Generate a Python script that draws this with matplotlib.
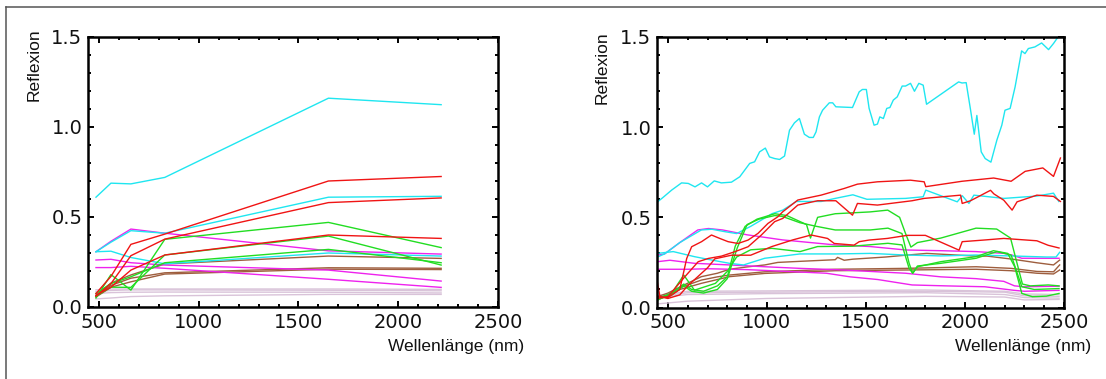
import matplotlib
matplotlib.use("Agg")
import matplotlib.pyplot as plt
from matplotlib.lines import Line2D
from matplotlib.ticker import MultipleLocator, FormatStrFormatter

# ---------------- colours ----------------
CYAN = "#1FE6F0"
RED = "#F01414"
GREEN = "#22DD22"
MAGENTA = "#EE22EE"
BROWN = "#9E5E3E"
LIGHT = "#D9C3D9"

# ---------------- left panel: band values ----------------
band_wl = [485, 560, 660, 830, 1650, 2215]
band_cyan_top = [0.61, 0.688, 0.684, 0.72, 1.16, 1.124]
band_red_a = [0.075, 0.17, 0.348, 0.405, 0.70, 0.725]
band_cyan_2 = [0.307, 0.36, 0.424, 0.41, 0.61, 0.615]
band_red_b = [0.06, 0.13, 0.285, 0.377, 0.58, 0.606]
band_mag_1 = [0.307, 0.365, 0.433, 0.41, 0.312, 0.294]
band_green_1 = [0.05, 0.18, 0.094, 0.376, 0.47, 0.33]
band_red_c = [0.065, 0.11, 0.205, 0.289, 0.40, 0.381]
band_green_2 = [0.06, 0.11, 0.109, 0.289, 0.394, 0.233]
band_green_3 = [0.075, 0.13, 0.168, 0.246, 0.32, 0.246]
band_cyan_3 = [0.307, 0.31, 0.275, 0.24, 0.30, 0.283]
band_mag_2 = [0.261, 0.265, 0.246, 0.233, 0.205, 0.144]
band_mag_3 = [0.219, 0.219, 0.226, 0.215, 0.154, 0.109]
band_brown_1 = [0.065, 0.133, 0.178, 0.239, 0.283, 0.27]
band_brown_2 = [0.06, 0.12, 0.16, 0.19, 0.218, 0.215]
band_brown_3 = [0.055, 0.11, 0.14, 0.183, 0.21, 0.208]
band_light_1 = [0.095, 0.10, 0.10, 0.10, 0.10, 0.098]
band_light_2 = [0.085, 0.092, 0.095, 0.095, 0.093, 0.09]
band_light_3 = [0.075, 0.08, 0.082, 0.083, 0.082, 0.078]
band_light_4 = [0.045, 0.05, 0.058, 0.062, 0.07, 0.07]

# ---------------- right panel: spectra ----------------
ct_wl = [447, 475, 519, 569, 603, 637, 670, 700, 734, 770, 821, 863, 913, 938, 963, 992,
         1013, 1039, 1064, 1089, 1114, 1139, 1164, 1189, 1214, 1234, 1248, 1265, 1281,
         1315, 1332, 1348, 1432, 1466, 1482, 1502, 1516, 1541, 1558, 1570, 1588, 1605,
         1621, 1638, 1658, 1683, 1700, 1725, 1745, 1767, 1789, 1806, 1968, 1985, 2006,
         2027, 2047, 2060, 2082, 2102, 2131, 2161, 2186, 2202, 2228, 2253, 2286, 2303,
         2320, 2353, 2387, 2422, 2447, 2470]
ct_val = [0.585, 0.61, 0.651, 0.691, 0.688, 0.669, 0.691, 0.669, 0.702, 0.691, 0.695,
          0.725, 0.799, 0.808, 0.863, 0.884, 0.835, 0.826, 0.821, 0.840, 0.983, 1.024,
          1.048, 0.961, 0.943, 0.943, 0.974, 1.057, 1.094, 1.135, 1.135, 1.113, 1.109,
          1.196, 1.209, 1.209, 1.104, 1.011, 1.017, 1.057, 1.048, 1.104, 1.109, 1.15,
          1.168, 1.228, 1.228, 1.243, 1.199, 1.243, 1.233, 1.127, 1.251, 1.245, 1.247,
          1.104, 0.961, 1.065, 0.863, 0.826, 0.806, 0.928, 1.011, 1.094, 1.104, 1.223,
          1.423, 1.408, 1.436, 1.445, 1.467, 1.43, 1.464, 1.50]

c2_wl = [447, 483, 560, 669, 722, 790, 847, 918, 980, 1025, 1080, 1149, 1274, 1345, 1434,
         1505, 1700, 1789, 1802, 1961, 1986, 2020, 2045, 2196, 2363, 2447, 2474]
c2_val = [0.28, 0.297, 0.36, 0.43, 0.434, 0.42, 0.41, 0.45, 0.49, 0.52, 0.54, 0.588,
          0.588, 0.605, 0.625, 0.60, 0.605, 0.614, 0.651, 0.586, 0.62, 0.577, 0.623,
          0.605, 0.618, 0.634, 0.588]

c3_wl = [447, 527, 634, 722, 811, 882, 989, 1167, 1345, 1522, 1700, 1878, 2056, 2233,
         2411, 2460, 2478]
c3_val = [0.30, 0.31, 0.282, 0.263, 0.245, 0.236, 0.273, 0.297, 0.297, 0.30, 0.291,
          0.286, 0.291, 0.286, 0.28, 0.28, 0.306]

m1_wl = [447, 483, 560, 651, 705, 776, 900, 1078, 1345, 1522, 1700, 1878, 2056, 2198,
         2240, 2287, 2475]
m1_val = [0.29, 0.297, 0.36, 0.43, 0.438, 0.43, 0.403, 0.375, 0.347, 0.338, 0.319,
          0.315, 0.31, 0.30, 0.29, 0.273, 0.273]

m2_wl = [447, 510, 634, 811, 989, 1167, 1345, 1522, 1700, 1878, 2056, 2196, 2250, 2300,
         2475]
m2_val = [0.254, 0.262, 0.245, 0.236, 0.226, 0.217, 0.21, 0.20, 0.19, 0.17, 0.16,
          0.145, 0.12, 0.115, 0.118]

m3_wl = [447, 600, 700, 900, 1100, 1300, 1420, 1560, 1733, 1900, 2100, 2250, 2300, 2475]
m3_val = [0.212, 0.212, 0.215, 0.21, 0.20, 0.19, 0.17, 0.155, 0.125, 0.12, 0.115,
          0.095, 0.09, 0.095]

ra_wl = [447, 500, 560, 595, 620, 670, 720, 762, 804, 854, 905, 955, 1005, 1055, 1080,
         1156, 1273, 1390, 1457, 1558, 1725, 1794, 1802, 1985, 2145, 2233, 2304, 2393,
         2447, 2482]
ra_val = [0.06, 0.055, 0.10, 0.272, 0.337, 0.365, 0.402, 0.383, 0.365, 0.355, 0.374,
          0.411, 0.466, 0.503, 0.531, 0.596, 0.623, 0.66, 0.684, 0.697, 0.706, 0.697,
          0.67, 0.70, 0.718, 0.70, 0.755, 0.774, 0.727, 0.829]

rb_wl = [447, 500, 586, 653, 704, 771, 837, 905, 972, 1039, 1080, 1156, 1256, 1348, 1432,
         1457, 1558, 1733, 1794, 1978, 1986, 2028, 2129, 2146, 2196, 2238, 2263, 2363,
         2447, 2482]
rb_val = [0.05, 0.06, 0.171, 0.254, 0.272, 0.285, 0.309, 0.337, 0.402, 0.476, 0.494,
          0.568, 0.592, 0.592, 0.512, 0.577, 0.568, 0.592, 0.605, 0.623, 0.577, 0.592,
          0.65, 0.63, 0.595, 0.54, 0.586, 0.623, 0.616, 0.588]

rc_wl = [447, 460, 500, 560, 600, 650, 700, 737, 821, 918, 1025, 1131, 1223, 1306, 1340,
         1440, 1466, 1516, 1608, 1708, 1800, 1970, 1986, 2095, 2196, 2363, 2420, 2475]
rc_val = [0.14, 0.06, 0.05, 0.07, 0.12, 0.17, 0.22, 0.27, 0.29, 0.29, 0.338, 0.375,
          0.402, 0.383, 0.355, 0.346, 0.365, 0.374, 0.383, 0.40, 0.40, 0.318, 0.365,
          0.374, 0.383, 0.37, 0.345, 0.33]

g1_wl = [447, 520, 580, 620, 680, 750, 800, 840, 890, 950, 1040, 1100, 1160, 1200, 1220,
         1256, 1345, 1520, 1610, 1670, 1700, 1727, 1760, 1878, 2056, 2160, 2230, 2290,
         2330, 2420, 2475]
g1_val = [0.05, 0.08, 0.13, 0.10, 0.09, 0.12, 0.17, 0.34, 0.45, 0.49, 0.52, 0.51, 0.48,
          0.46, 0.385, 0.50, 0.52, 0.53, 0.54, 0.50, 0.41, 0.335, 0.36, 0.385, 0.44,
          0.435, 0.385, 0.13, 0.12, 0.125, 0.12]

g2_wl = [447, 520, 580, 620, 680, 750, 800, 850, 900, 960, 1040, 1078, 1167, 1250, 1345,
         1522, 1611, 1682, 1718, 1736, 1760, 1878, 2056, 2162, 2233, 2287, 2350, 2475]
g2_val = [0.045, 0.07, 0.12, 0.09, 0.08, 0.10, 0.16, 0.33, 0.46, 0.49, 0.51, 0.505,
          0.47, 0.45, 0.43, 0.43, 0.44, 0.41, 0.245, 0.19, 0.23, 0.245, 0.273, 0.31,
          0.291, 0.115, 0.10, 0.105]

g3_wl = [447, 520, 580, 634, 740, 800, 847, 918, 1025, 1167, 1256, 1434, 1611, 1682,
         1718, 1736, 1760, 1878, 2056, 2144, 2216, 2251, 2287, 2340, 2411, 2475]
g3_val = [0.04, 0.08, 0.18, 0.096, 0.134, 0.20, 0.28, 0.32, 0.328, 0.31, 0.338, 0.34,
          0.356, 0.347, 0.217, 0.19, 0.226, 0.254, 0.282, 0.315, 0.30, 0.226, 0.078,
          0.06, 0.063, 0.078]

b1_wl = [447, 500, 563, 669, 750, 811, 900, 989, 1055, 1167, 1345, 1357, 1390, 1434, 1600,
         1700, 1807, 2056, 2112, 2246, 2363, 2447, 2478]
b1_val = [0.06, 0.08, 0.115, 0.171, 0.19, 0.212, 0.225, 0.236, 0.25, 0.256, 0.265,
          0.278, 0.262, 0.268, 0.28, 0.29, 0.30, 0.285, 0.285, 0.267, 0.248, 0.236, 0.263]

b23_wl = [447, 500, 560, 669, 750, 811, 989, 1345, 1700, 2056, 2233, 2363, 2447, 2478]
b2_val = [0.05, 0.07, 0.11, 0.152, 0.17, 0.18, 0.198, 0.212, 0.217, 0.226, 0.217, 0.2,
          0.198, 0.236]
b3_val = [0.045, 0.065, 0.10, 0.134, 0.155, 0.171, 0.189, 0.204, 0.208, 0.212, 0.204,
          0.19, 0.186, 0.208]

light_wl = [447, 600, 1000, 1800, 2200, 2300, 2475]
l1_val = [0.065, 0.09, 0.092, 0.097, 0.09, 0.075, 0.072]
l2_val = [0.06, 0.082, 0.085, 0.09, 0.085, 0.065, 0.062]
l3_val = [0.055, 0.072, 0.077, 0.082, 0.072, 0.055, 0.052]
l4_val = [0.02, 0.035, 0.05, 0.062, 0.058, 0.042, 0.045]

XLIM = (445, 2500)
YLIM = (0.0, 1.5)

W, H = 1106, 379
fig = plt.figure(figsize=(W / 100, H / 100), dpi=100)
fig.patch.set_facecolor("white")


def px_rect(x0, x1, ytop, ybot):
    return [x0 / W, 1 - ybot / H, (x1 - x0) / W, (ybot - ytop) / H]


ax_l = fig.add_axes(px_rect(88, 498, 37, 307))
ax_r = fig.add_axes(px_rect(657, 1064, 37, 307.5))

LW = 1.0
left_series = [
    (band_light_1, LIGHT), (band_light_2, LIGHT), (band_light_3, LIGHT), (band_light_4, LIGHT),
    (band_brown_1, BROWN), (band_brown_2, BROWN), (band_brown_3, BROWN),
    (band_mag_1, MAGENTA), (band_mag_2, MAGENTA), (band_mag_3, MAGENTA),
    (band_cyan_top, CYAN), (band_cyan_2, CYAN), (band_cyan_3, CYAN),
    (band_green_1, GREEN), (band_green_2, GREEN), (band_green_3, GREEN),
    (band_red_a, RED), (band_red_b, RED), (band_red_c, RED),
]
for vals, col in left_series:
    ax_l.plot(band_wl, vals, color=col, lw=LW)

right_series = [
    (light_wl, l1_val, LIGHT), (light_wl, l2_val, LIGHT), (light_wl, l3_val, LIGHT),
    (light_wl, l4_val, LIGHT),
    (b1_wl, b1_val, BROWN), (b23_wl, b2_val, BROWN), (b23_wl, b3_val, BROWN),
    (m1_wl, m1_val, MAGENTA), (m2_wl, m2_val, MAGENTA), (m3_wl, m3_val, MAGENTA),
    (ct_wl, ct_val, CYAN), (c2_wl, c2_val, CYAN), (c3_wl, c3_val, CYAN),
    (g1_wl, g1_val, GREEN), (g2_wl, g2_val, GREEN), (g3_wl, g3_val, GREEN),
    (ra_wl, ra_val, RED), (rb_wl, rb_val, RED), (rc_wl, rc_val, RED),
]
for wl, vals, col in right_series:
    ax_r.plot(wl, vals, color=col, lw=LW)

for ax in (ax_l, ax_r):
    ax.set_xlim(*XLIM)
    ax.set_ylim(*YLIM)
    ax.xaxis.set_major_locator(MultipleLocator(500))
    ax.xaxis.set_minor_locator(MultipleLocator(100))
    ax.yaxis.set_major_locator(MultipleLocator(0.5))
    ax.yaxis.set_minor_locator(MultipleLocator(0.1))
    ax.yaxis.set_major_formatter(FormatStrFormatter("%.1f"))
    ax.tick_params(which="both", direction="in", top=True, right=True, width=1.4,
                   color="black")
    ax.tick_params(which="major", length=4.5, labelsize=14, pad=4)
    ax.tick_params(which="minor", length=2.3)
    for lab in ax.get_xticklabels() + ax.get_yticklabels():
        lab.set_family("DejaVu Sans")
        lab.set_color("#111111")
    for sp in ax.spines.values():
        sp.set_linewidth(1.8)
        sp.set_color("black")

label_kw = dict(fontsize=12.5, family=["Liberation Sans", "DejaVu Sans"], color="#111111")
fig.text(34.6 / W, 1 - 28 / H, "Reflexion", rotation=90, ha="center", va="top", **label_kw)
fig.text(602 / W, 1 - 31 / H, "Reflexion", rotation=90, ha="center", va="top", **label_kw)
fig.text(524 / W, 1 - 347 / H, "Wellenlänge (nm)", ha="right", va="center", **label_kw)
fig.text(1091 / W, 1 - 347 / H, "Wellenlänge (nm)", ha="right", va="center", **label_kw)

# outer frame (top and left edges of the surrounding box)
fig.add_artist(Line2D([6 / W, 1.0], [1 - 7 / H, 1 - 7 / H], color="#555555", lw=1.1,
                      transform=fig.transFigure))
fig.add_artist(Line2D([6 / W, 6 / W], [1 - 7 / H, 0.0], color="#555555", lw=1.1,
                      transform=fig.transFigure))

fig.savefig("out.png", dpi=100, facecolor="white")
